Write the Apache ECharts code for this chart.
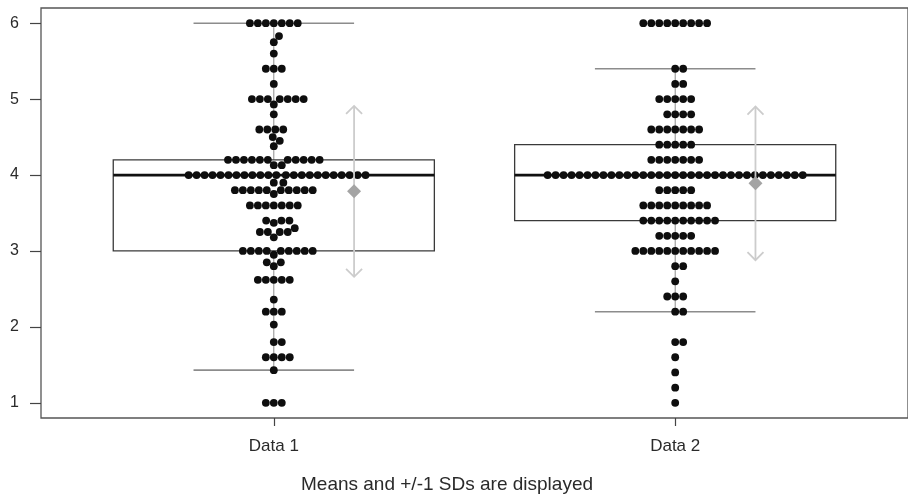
<!DOCTYPE html>
<html>
<head>
<meta charset="utf-8">
<script src="https://cdn.jsdelivr.net/npm/echarts@6/dist/echarts.min.js"></script>
<style>
  html, body { margin: 0; padding: 0; background: #ffffff; }
  #chart { width: 908px; height: 495px; }
</style>
</head>
<body>
<div id="chart"></div>
<script>
// ---- data ----------------------------------------------------------------
const categories = ['Data 1', 'Data 2'];

// distinct scores in each group and how many times each occurs
const data1Levels = [1.0, 1.43, 1.6, 1.8, 2.03, 2.2, 2.36, 2.62, 2.8, 2.85, 2.95, 3.0, 3.18, 3.25, 3.3, 3.37, 3.4, 3.6, 3.75, 3.8, 3.9, 4.0, 4.13, 4.2, 4.38, 4.45, 4.5, 4.6, 4.8, 4.93, 5.0, 5.2, 5.4, 5.6, 5.75, 5.83, 6.0];
const data1Counts = [3, 1, 4, 2, 1, 3, 1, 5, 1, 2, 1, 9, 1, 4, 1, 1, 3, 7, 1, 10, 2, 23, 2, 11, 1, 1, 1, 4, 1, 1, 7, 1, 3, 1, 1, 1, 7];

const data2Levels = [1.0, 1.2, 1.4, 1.6, 1.8, 2.2, 2.4, 2.6, 2.8, 3.0, 3.2, 3.4, 3.6, 3.8, 4.0, 4.2, 4.4, 4.6, 4.8, 5.0, 5.2, 5.4, 6.0];
const data2Counts = [1, 1, 1, 1, 2, 2, 3, 1, 2, 11, 5, 10, 9, 5, 33, 7, 5, 7, 4, 5, 2, 2, 9];

const yTicks = [1, 2, 3, 4, 5, 6];
const captionText = 'Means and +/-1 SDs are displayed';

// ---- layout / style ------------------------------------------------------
const W = 908, H = 495;
const GRID = { left: 41, right: -3, top: 8, bottom: 77 };
const X_MIN = 0.42, X_MAX = 2.58;
const Y_MIN = 0.8, Y_MAX = 6.2;
const DOT_SIZE = 7.8;        // marker diameter, px
const DOT_SPACING = 8;       // centre-to-centre distance in the swarm, px
const BOX_HALF = 0.4;        // half box width, x units
const CAP_HALF = 0.2;        // half whisker-cap width, x units
const SD_OFFSET = 0.2;       // mean/SD marker offset from the group centre
const FONT = '"Liberation Sans", Arial, sans-serif';

const pxPerX = (W - GRID.left - GRID.right) / (X_MAX - X_MIN);
const pxPerY = (H - GRID.top - GRID.bottom) / (Y_MAX - Y_MIN);

// ---- helpers -------------------------------------------------------------
function expand(levels, counts) {
  const out = [];
  levels.forEach((v, i) => { for (let k = 0; k < counts[i]; k++) out.push(v); });
  return out;
}

// five-number summary with hinges, whiskers at 1.5 IQR
function boxStats(values) {
  const x = values.slice().sort((a, b) => a - b);
  const n = x.length;
  const n4 = Math.floor((n + 3) / 2) / 2;
  const at = d => 0.5 * (x[Math.floor(d) - 1] + x[Math.ceil(d) - 1]);
  const q1 = at(n4), med = at((n + 1) / 2), q3 = at(n + 1 - n4);
  const iqr = q3 - q1;
  const lo = x.filter(v => v >= q1 - 1.5 * iqr)[0];
  const hiArr = x.filter(v => v <= q3 + 1.5 * iqr);
  const hi = hiArr[hiArr.length - 1];
  const mean = x.reduce((s, v) => s + v, 0) / n;
  const sd = Math.sqrt(x.reduce((s, v) => s + (v - mean) * (v - mean), 0) / (n - 1));
  return { lo, q1, med, q3, hi, mean, sd };
}

// swarm layout: each point, in ascending order, is placed at the free
// horizontal offset nearest the centre (units of one marker spacing)
function swarmOffsets(values) {
  const order = values.map((v, i) => i).sort((a, b) => values[a] - values[b]);
  const placed = [];
  const offsets = new Array(values.length).fill(0);
  order.forEach(idx => {
    const yi = values[idx] * pxPerY / DOT_SPACING;
    const near = placed.filter(p => Math.abs(yi - p.y) < 1);
    const plus = near.map(p => p.x + Math.sqrt(1 - (yi - p.y) * (yi - p.y)));
    const minus = near.map(p => p.x - Math.sqrt(1 - (yi - p.y) * (yi - p.y)));
    const cands = [0].concat(plus, minus);
    let best = Infinity;
    cands.forEach(c => {
      const bad = near.some(p => (c - p.x) * (c - p.x) + (yi - p.y) * (yi - p.y) < 0.999);
      if (!bad && Math.abs(c) < Math.abs(best)) best = c;
    });
    placed.push({ x: best, y: yi });
    offsets[idx] = best;
  });
  return offsets;
}

const groups = [expand(data1Levels, data1Counts), expand(data2Levels, data2Counts)];
const stats = groups.map(boxStats);

const dots = [];
groups.forEach((vals, g) => {
  const offs = swarmOffsets(vals);
  vals.forEach((v, i) => dots.push([g + 1 + offs[i] * DOT_SPACING / pxPerX, v]));
});

const boxData = stats.map((s, g) => [g + 1, s.lo, s.q1, s.med, s.q3, s.hi]);
const meanData = stats.map((s, g) => [g + 1 + SD_OFFSET, s.mean, s.sd]);

// ---- chart ---------------------------------------------------------------
const chart = echarts.init(document.getElementById('chart'), null, { renderer: 'canvas' });

const option = {
  animation: false,
  backgroundColor: '#ffffff',
  grid: Object.assign({ show: true, borderColor: '#555555', borderWidth: 1.3, backgroundColor: 'transparent' }, GRID),
  xAxis: {
    type: 'value', min: X_MIN, max: X_MAX,
    axisLine: { show: false },
    splitLine: { show: false },
    axisTick: { show: true, length: 8, lineStyle: { color: '#444444', width: 1.2 }, customValues: [1, 2] },
    axisLabel: {
      customValues: [1, 2], margin: 20, color: '#2a2a2a', fontSize: 17, fontFamily: FONT,
      formatter: v => categories[Math.round(v) - 1]
    }
  },
  yAxis: {
    type: 'value', min: Y_MIN, max: Y_MAX,
    axisLine: { show: false },
    splitLine: { show: false },
    axisTick: { show: true, length: 11, lineStyle: { color: '#444444', width: 1.2 }, customValues: yTicks },
    axisLabel: { customValues: yTicks, margin: 22, color: '#2a2a2a', fontSize: 16, fontFamily: FONT }
  },
  graphic: [{
    type: 'text', x: 447, y: 485,
    style: { text: captionText, textAlign: 'center', textVerticalAlign: 'middle', fill: '#2a2a2a', font: '19px ' + FONT }
  }],
  series: [
    {
      // box, median and whiskers
      type: 'custom', z: 1,
      data: boxData,
      renderItem: (params, api) => {
        const c = api.value(0);
        const p = k => api.coord([c, api.value(k)]);
        const left = api.coord([c - BOX_HALF, 0])[0], right = api.coord([c + BOX_HALF, 0])[0];
        const capL = api.coord([c - CAP_HALF, 0])[0], capR = api.coord([c + CAP_HALF, 0])[0];
        const yLo = p(1)[1], yQ1 = p(2)[1], yMed = p(3)[1], yQ3 = p(4)[1], yHi = p(5)[1];
        const cx = p(3)[0];
        const whisker = { stroke: '#8c8c8c', lineWidth: 1.6 };
        return {
          type: 'group',
          children: [
            { type: 'line', shape: { x1: cx, y1: yHi, x2: cx, y2: yQ3 }, style: { stroke: '#8c8c8c', lineWidth: 1 } },
            { type: 'line', shape: { x1: cx, y1: yQ1, x2: cx, y2: yLo }, style: { stroke: '#8c8c8c', lineWidth: 1 } },
            { type: 'line', shape: { x1: capL, y1: yHi, x2: capR, y2: yHi }, style: whisker },
            { type: 'line', shape: { x1: capL, y1: yLo, x2: capR, y2: yLo }, style: whisker },
            { type: 'rect', shape: { x: left, y: yQ3, width: right - left, height: yQ1 - yQ3 },
              style: { fill: 'none', stroke: '#3a3a3a', lineWidth: 1.3 } },
            { type: 'line', shape: { x1: left, y1: yMed, x2: right, y2: yMed }, style: { stroke: '#111111', lineWidth: 2.8 } }
          ]
        };
      }
    },
    {
      // individual responses
      type: 'scatter', z: 2,
      data: dots,
      symbol: 'circle', symbolSize: DOT_SIZE,
      itemStyle: { color: '#0e0e0e', borderWidth: 0, opacity: 1 },
      silent: true
    },
    {
      // mean with +/- 1 SD arrows
      type: 'custom', z: 3,
      data: meanData,
      renderItem: (params, api) => {
        const x = api.value(0), m = api.value(1), sd = api.value(2);
        const top = api.coord([x, m + sd]), bot = api.coord([x, m - sd]), mid = api.coord([x, m]);
        const line = { stroke: '#cccccc', lineWidth: 1.8, fill: 'none' };
        const ah = 8, aw = 8, d = 7;
        return {
          type: 'group',
          children: [
            { type: 'line', shape: { x1: top[0], y1: top[1], x2: bot[0], y2: bot[1] }, style: line },
            { type: 'polyline', shape: { points: [[top[0] - aw, top[1] + ah], [top[0], top[1]], [top[0] + aw, top[1] + ah]] }, style: line },
            { type: 'polyline', shape: { points: [[bot[0] - aw, bot[1] - ah], [bot[0], bot[1]], [bot[0] + aw, bot[1] - ah]] }, style: line },
            { type: 'polygon', shape: { points: [[mid[0], mid[1] - d], [mid[0] + d, mid[1]], [mid[0], mid[1] + d], [mid[0] - d, mid[1]]] },
              style: { fill: '#a4a4a4' } }
          ]
        };
      }
    }
  ]
};

chart.setOption(option);
</script>
</body>
</html>
